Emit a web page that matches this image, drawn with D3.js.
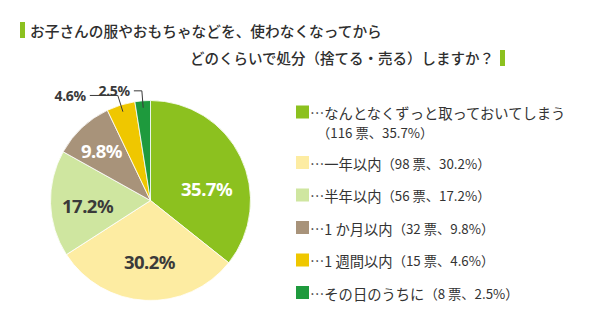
<!DOCTYPE html>
<html><head><meta charset="utf-8">
<script src="https://cdn.jsdelivr.net/npm/d3@7"></script>
<style>
html,body{margin:0;padding:0;background:#fff;}
svg{display:block;}
</style></head>
<body><svg id="chart" width="615" height="330"></svg>
<script>
const titleLines = ["お子さんの服やおもちゃなどを、使わなくなってから", "どのくらいで処分（捨てる・売る）しますか？"];
const categories = ["なんとなくずっと取っておいてしまう", "一年以内", "半年以内", "1 か月以内", "1 週間以内", "その日のうちに"];
const votes = [116, 98, 56, 32, 15, 8];
const percents = [35.7, 30.2, 17.2, 9.8, 4.6, 2.5];
const colors = ["#8cc11f", "#fdeca2", "#cfe6a0", "#a8937a", "#efc700", "#1e9a3d"];
const labelColors = ["#ffffff", "#3a3a3a", "#3a3a3a", "#ffffff", "#3a3a3a", "#3a3a3a"];

const data = categories.map((c, i) => ({name: c, votes: votes[i], pct: percents[i], color: colors[i], lc: labelColors[i]}));

const svg = d3.select("#chart");
const accent = "#8cc11f";
const textColor = "#333333";
const jp = "'Noto Sans CJK JP', 'Noto Sans', sans-serif";

// Title
svg.append("rect").attr("x", 20).attr("y", 22).attr("width", 5).attr("height", 16).attr("fill", accent);
svg.append("text").attr("x", 30).attr("y", 30).attr("dominant-baseline", "central")
  .attr("font-family", jp).attr("font-weight", 500).attr("font-size", 14.7).attr("fill", "#2e2e2e")
  .text(titleLines[0]);
svg.append("text").attr("x", 494).attr("y", 57).attr("dominant-baseline", "central").attr("text-anchor", "end")
  .attr("font-family", jp).attr("font-weight", 500).attr("font-size", 14.5).attr("fill", "#2e2e2e")
  .text(titleLines[1]);
svg.append("rect").attr("x", 500).attr("y", 50).attr("width", 5).attr("height", 16).attr("fill", accent);

// Pie
const cx = 150.5, cy = 200.5, R = 100;
const pie = d3.pie().sort(null).value(d => d.pct);
const arcs = pie(data);
const arc = d3.arc().innerRadius(0).outerRadius(R);
const g = svg.append("g").attr("transform", `translate(${cx},${cy})`);
g.selectAll("path.slice").data(arcs).join("path")
  .attr("class", "slice").attr("d", arc).attr("fill", d => d.data.color)
  .attr("stroke", "#fff").attr("stroke-width", 0.8);

// inside labels
const inside = arcs.slice(0, 4);
const nudge = [[2, 14], [2, 1], [-3, 3], [-8, -6]];
const labelArc = d3.arc().innerRadius(R * 0.6).outerRadius(R * 0.6);
g.selectAll("text.in").data(inside).join("text")
  .attr("class", "in")
  .attr("x", (d, i) => labelArc.centroid(d)[0] + nudge[i][0])
  .attr("y", (d, i) => labelArc.centroid(d)[1] + nudge[i][1])
  .attr("text-anchor", "middle").attr("dominant-baseline", "central")
  .attr("font-family", "'Noto Sans', sans-serif").attr("font-weight", 700).attr("font-size", 18.5)
  .attr("letter-spacing", -0.5)
  .attr("fill", d => d.data.lc)
  .text(d => d.data.pct.toFixed(1) + "%");

// outside labels with leaders
const outside = arcs.slice(4);
const hLen = [28, 8];
outside.forEach((d, i) => {
  const a = (d.startAngle + d.endAngle) / 2;
  const p1 = [Math.sin(a) * R * 0.93, -Math.cos(a) * R * 0.93];
  const p2 = [Math.sin(a) * R * 1.1, -Math.cos(a) * R * 1.1];
  const p3 = [p2[0] - hLen[i], p2[1]];
  g.append("path").attr("d", d3.line()([p1, p2, p3]))
    .attr("fill", "none").attr("stroke", "#3a3a3a").attr("stroke-width", 1);
  g.append("text").attr("x", p3[0] - 4).attr("y", p3[1])
    .attr("text-anchor", "end").attr("dominant-baseline", "central")
    .attr("font-family", "'Noto Sans', sans-serif").attr("font-weight", 700).attr("font-size", 14)
    .attr("letter-spacing", -0.3)
    .attr("fill", "#3a3a3a")
    .text(d.data.pct.toFixed(1) + "%");
});

// Legend
const rowY = [112, 162.5, 195, 227.5, 260, 292.5];
const lg = svg.append("g");
data.forEach((d, i) => {
  const y = rowY[i];
  lg.append("rect").attr("x", 296).attr("y", y - 6.5).attr("width", 13).attr("height", 13).attr("fill", d.color);
  const t = lg.append("text").attr("x", 310).attr("y", y).attr("dominant-baseline", "central")
    .attr("font-family", jp).attr("font-size", 14.3).attr("fill", textColor);
  t.append("tspan").text("…" + d.name);
  const sub = "（" + d.votes + " 票、" + d.pct.toFixed(1) + "%）";
  if (i === 0) {
    lg.append("text").attr("x", 317).attr("y", y + 20).attr("dominant-baseline", "central")
      .attr("font-family", jp).attr("font-size", 13.3).attr("fill", textColor).text(sub);
  } else {
    t.append("tspan").attr("font-size", 13.3).text(sub);
  }
});
</script></body></html>
